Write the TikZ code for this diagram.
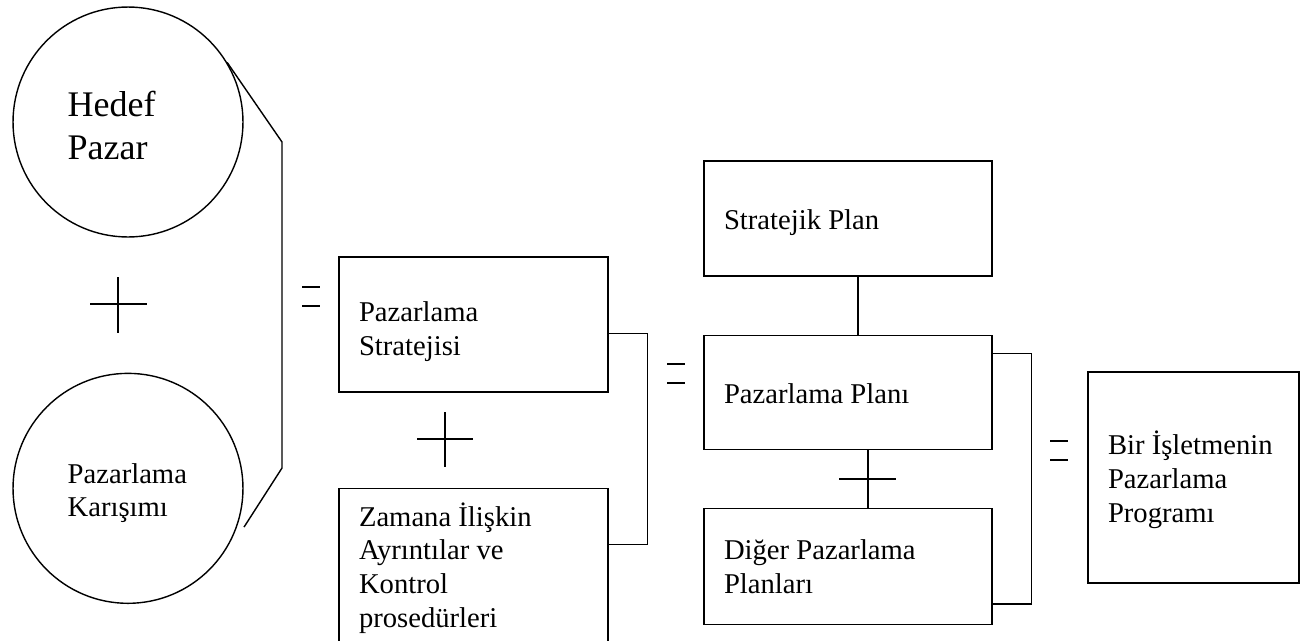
\documentclass[tikz,border=0pt]{standalone}
\usepackage{fontspec}
\setmainfont{Liberation Serif}
\usetikzlibrary{positioning, calc}

\begin{document}
\begin{tikzpicture}[
  x=0.02cm, y=-0.02cm,
  thick,
  font=\fontsize{16.3}{19.3}\selectfont,
  box/.style={draw, rectangle, inner sep=0pt},
  circ/.style={draw, circle, inner sep=0pt, minimum size=4.6cm},
  txt/.style={inner sep=0pt, anchor=north west, align=left},
  bigtxt/.style={txt, font=\fontsize{20.5}{24.4}\selectfont},
  eqsign/.pic={\draw (0,0) -- (18,0) (0,19) -- (18,19);}
]
\useasboundingbox (0,0) rectangle (1308,640);

% =========================
% Left: target market + mix
% =========================
\node[circ] (hedef) at (128,122) {};
\node[circ, below=2.7cm of hedef] (karma) {};
\node[bigtxt] (hedef-t) at ($(hedef.center)+(-61,-31.5)$) {Hedef\\Pazar};
\node[txt, font=\fontsize{16.3}{18.7}\selectfont] (karma-t)
  at ($(karma.center)+(-61,-25)$) {Pazarlama\\Karışımı};

\draw (90,304) -- (147,304) (118,277) -- (118,333);

\coordinate (b1top) at (282,142);
\coordinate (b1bot) at (282,468);
\draw (hedef.31) -- (b1top) -- (b1bot) -- ($(karma.-18)+(6,3)$);

\pic at (302,287) {eqsign};

% =========================
% Strategy + timing details
% =========================
\node[box, minimum width=5.38cm, minimum height=2.7cm] (pstrat) at (473.5,324.5) {};
\node[box, minimum width=5.38cm, minimum height=3.4cm, below=1.9cm of pstrat] (zaman) {};
\node[txt] (pstrat-t) at ($(pstrat.north west)+(20,45)$) {Pazarlama\\Stratejisi};
\node[txt] (zaman-t) at ($(zaman.north west)+(20,14)$)
  {Zamana İlişkin\\Ayrıntılar ve\\Kontrol\\prosedürleri};

\draw (417,439) -- (473,439) (445,412) -- (445,467);

\draw ($(pstrat.north east)+(0,77)$) -- ++(39,0) |- ($(zaman.north east)+(0,57)$);

\pic at (667,364) {eqsign};

% =========================
% Plans
% =========================
\node[box, minimum width=5.76cm, minimum height=2.3cm] (stplan) at (848,218.5) {};
\node[box, minimum width=5.76cm, minimum height=2.28cm, below=1.16cm of stplan] (pplan) {};
\node[box, minimum width=5.76cm, minimum height=2.32cm, below=1.16cm of pplan] (diger) {};
\node[txt] (stplan-t) at ($(stplan.north west)+(20,49)$) {Stratejik Plan};
\node[txt] (pplan-t) at ($(pplan.north west)+(20,48)$) {Pazarlama Planı};
\node[txt] (diger-t) at ($(diger.north west)+(20,31)$) {Diğer Pazarlama\\Planları};

\draw ($(stplan.south)+(10,0)$) -- ($(pplan.north)+(10,0)$);
\draw ($(pplan.south)+(20,0)$) -- ($(diger.north)+(20,0)$);
\draw ($(pplan.south)+(-9,29)$) -- ++(57,0);

\draw ($(pplan.north east)+(0,19)$) -- ++(39,0) |- ($(diger.north east)+(0,96)$);

\pic at (1050,441) {eqsign};

% =========================
% Result
% =========================
\node[box, minimum width=4.22cm, minimum height=4.22cm] (program) at (1193.5,477.5) {};
\node[txt] (program-t) at ($(program.north west)+(20,59)$)
  {Bir İşletmenin\\Pazarlama\\Programı};

\end{tikzpicture}
\end{document}
